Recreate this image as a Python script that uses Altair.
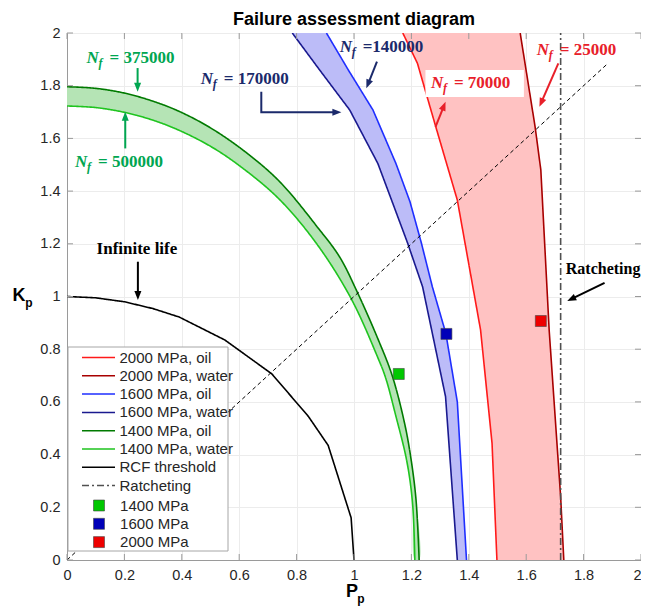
import math
import altair as alt
import pandas as pd

W, H = 574, 527
PXU, PYU = W / 2.0, H / 2.0   # pixels per data unit

# ---------------- data ----------------
g_oil_x = [0.0, 0.10, 0.20, 0.30, 0.39, 0.50, 0.62, 0.74, 0.875, 0.95, 1.01, 1.083, 1.133, 1.176, 1.198, 1.216, 1.227]
g_oil_y = [1.796, 1.790, 1.772, 1.741, 1.703, 1.640, 1.550, 1.437, 1.260, 1.150, 1.020, 0.840, 0.700, 0.520, 0.388, 0.230, 0.0]
g_wat_x = [0.0, 0.10, 0.20, 0.30, 0.39, 0.50, 0.60, 0.737, 0.87, 0.99, 1.083, 1.11, 1.145, 1.184, 1.204, 1.212]
g_wat_y = [1.723, 1.717, 1.699, 1.669, 1.631, 1.570, 1.497, 1.372, 1.200, 0.992, 0.768, 0.692, 0.550, 0.375, 0.215, 0.0]
b_oil_x = [0.904, 0.98, 1.066, 1.146, 1.195, 1.235, 1.273, 1.32, 1.36, 1.392]
b_oil_y = [2.0, 1.86, 1.708, 1.505, 1.36, 1.202, 1.037, 0.86, 0.60, 0.0]
b_wat_x = [0.785, 0.88, 0.985, 1.083, 1.135, 1.187, 1.239, 1.273, 1.319, 1.36]
b_wat_y = [2.0, 1.86, 1.708, 1.505, 1.354, 1.202, 1.037, 0.86, 0.62, 0.0]
r_oil_x = [1.17, 1.221, 1.285, 1.36, 1.441, 1.481, 1.498]
r_oil_y = [2.0, 1.885, 1.644, 1.366, 0.873, 0.443, 0.0]
r_wat_x = [1.579, 1.631, 1.651, 1.68, 1.72, 1.731]
r_wat_y = [2.0, 1.644, 1.48, 0.873, 0.24, 0.0]
rcf_x = [0.0, 0.1, 0.2, 0.3, 0.391, 0.55, 0.714, 0.841, 0.91, 0.99, 1.0]
rcf_y = [1.0, 0.995, 0.98, 0.954, 0.922, 0.835, 0.706, 0.545, 0.435, 0.16, 0.0]
ratch_x = [1.72, 1.72]
ratch_y = [0.0, 2.0]
diag_x = [0.0, 1.886]
diag_y = [0.0, 1.886]

pt_grade = ["1400 MPa", "1600 MPa", "2000 MPa"]
pt_x = [1.156, 1.322, 1.651]
pt_y = [0.706, 0.858, 0.907]
pt_col = ["#00c800", "#0000b8", "#ee0000"]

series = ["2000 MPa, oil", "2000 MPa, water", "1600 MPa, oil", "1600 MPa, water",
          "1400 MPa, oil", "1400 MPa, water", "RCF threshold", "Ratcheting"]
s_col = ["#ff1a1a", "#a80000", "#1f2fff", "#1a1a8f", "#007a00", "#1fc41f", "#000000", "#505050"]
s_dash = [[1, 0]] * 7 + [[7, 3, 2, 3]]

ticks = [0, 0.2, 0.4, 0.6, 0.8, 1, 1.2, 1.4, 1.6, 1.8, 2]

GREEN, NAVY, RED = "#00a651", "#1b2a6b", "#e8202a"
ann_text = ["= 375000", "= 500000", "= 170000", "=140000", "= 70000", "= 25000"]
ann_x = [0.068, 0.028, 0.466, 0.950, 1.268, 1.637]
ann_y = [1.907, 1.512, 1.825, 1.945, 1.809, 1.937]
ann_col = [GREEN, GREEN, NAVY, NAVY, RED, RED]

lab1_text, lab1_x, lab1_y = ["Infinite life"], [0.103], [1.180]
lab2_text, lab2_x, lab2_y = ["Ratcheting"], [1.738], [1.104]

box70 = dict(x=[1.249], x2=[1.592], y=[1.757], y2=[1.860])

arrows = [
    ([0.246, 0.246], [1.867, 1.777], GREEN),
    ([0.203, 0.203], [1.562, 1.701], GREEN),
    ([0.677, 0.677, 0.956], [1.777, 1.699, 1.699], NAVY),
    ([1.080, 1.043], [1.891, 1.790], NAVY),
    ([1.284, 1.319], [1.644, 1.739], RED),
    ([1.712, 1.646], [1.885, 1.720], RED),
    ([0.247, 0.247], [1.132, 0.987], "#000000"),
    ([1.873, 1.743], [1.052, 0.983], "#000000"),
]

# ---------------- build tables ----------------
FONT = "Liberation Sans"
SERIF = "Liberation Serif"

xaxis = alt.Axis(values=ticks, format="~g", title=None, grid=True, gridColor="#ececec",
                 domainColor="#9a9a9a", tickSize=0, labelFont=FONT, labelFontSize=14.5,
                 labelColor="#262626", labelPadding=8, labelOverlap=False, labelFlush=False,
                 labelAlign=alt.ExprRef(expr="datum.value >= 2 ? 'right' : 'center'"))
yaxis = alt.Axis(values=ticks, format="~g", title=None, grid=True, gridColor="#ececec",
                 domainColor="#9a9a9a", tickSize=0, labelFont=FONT, labelFontSize=14.5,
                 labelColor="#262626", labelPadding=7, labelOverlap=False, labelFlush=False)
sx = alt.Scale(domain=[0, 2], nice=False, zero=False)
sy = alt.Scale(domain=[0, 2], nice=False, zero=False)


def X(f="x"):
    return alt.X(f"{f}:Q", scale=sx, axis=xaxis)


def Y(f="y"):
    return alt.Y(f"{f}:Q", scale=sy, axis=yaxis)


def poly(xa, ya, xb, yb):
    xs = list(xa) + list(reversed(xb))
    ys = list(ya) + list(reversed(yb))
    return pd.DataFrame({"x": xs, "y": ys, "idx": range(len(xs))})


band_specs = [
    (poly(g_oil_x, g_oil_y, g_wat_x, g_wat_y), "#b5e4b5", "catmull-rom"),
    (poly(b_oil_x, b_oil_y, b_wat_x, b_wat_y), "#bcbcf8", "linear"),
    (poly(r_oil_x, r_oil_y, r_wat_x, r_wat_y), "#ffc2c2", "linear"),
]
bands = [alt.Chart(d).mark_line(filled=True, color=c, strokeWidth=0, clip=True,
                                interpolate=ip).encode(
    x=X(), y=Y(), order="idx:Q") for d, c, ip in band_specs]

curve_xy = {
    "2000 MPa, oil": (r_oil_x, r_oil_y), "2000 MPa, water": (r_wat_x, r_wat_y),
    "1600 MPa, oil": (b_oil_x, b_oil_y), "1600 MPa, water": (b_wat_x, b_wat_y),
    "1400 MPa, oil": (g_oil_x, g_oil_y), "1400 MPa, water": (g_wat_x, g_wat_y),
    "RCF threshold": (rcf_x, rcf_y), "Ratcheting": (ratch_x, ratch_y),
}
rows = []
for s in series:
    xs, ys = curve_xy[s]
    for i, (a, b) in enumerate(zip(xs, ys)):
        rows.append({"series": s, "x": a, "y": b, "idx": i})
lines_df = pd.DataFrame(rows)

leg1 = alt.Legend(title=None, orient="none", legendX=24, legendY=317, symbolType="M-3,0H3",
                  symbolSize=121, symbolStrokeWidth=1.5, labelFont=FONT, labelFontSize=15,
                  labelColor="#262626", labelOffset=13.5, rowPadding=2.3, padding=0,
                  labelLimit=300)
leg2 = alt.Legend(title=None, orient="none", legendX=24.5, legendY=465, symbolType="square",
                  symbolSize=121, symbolStrokeColor="#444444", symbolStrokeWidth=0.6,
                  labelFont=FONT, labelFontSize=15, labelColor="#262626", labelOffset=13.6,
                  rowPadding=2.3, padding=0, labelLimit=300)


def line_layer(df, interp):
    enc = dict(
        x=X(), y=Y(), detail="series:N", order="idx:Q",
        stroke=alt.Stroke("series:N", scale=alt.Scale(domain=series, range=s_col), legend=leg1),
        strokeDash=alt.StrokeDash("series:N", scale=alt.Scale(domain=series, range=s_dash), legend=leg1),
    )
    return alt.Chart(df).mark_line(strokeWidth=1.6, clip=True, interpolate=interp).encode(**enc)


green_names = ["1400 MPa, oil", "1400 MPa, water"]
lines = [line_layer(lines_df[lines_df["series"].isin(green_names)], "catmull-rom"),
         line_layer(lines_df[~lines_df["series"].isin(green_names)], "linear")]

diag = alt.Chart(pd.DataFrame({"x": diag_x, "y": diag_y})).mark_line(
    color="black", strokeWidth=1, strokeDash=[4, 3]).encode(x=X(), y=Y())

pts = alt.Chart(pd.DataFrame({"x": pt_x, "y": pt_y, "grade": pt_grade})).mark_square(
    size=121, opacity=1, stroke="#444444", strokeWidth=0.6).encode(
    x=X(), y=Y(), fill=alt.Fill("grade:N", scale=alt.Scale(domain=pt_grade, range=pt_col), legend=leg2))

tdf = pd.DataFrame({"t": ticks})
tick_style = dict(color="#9a9a9a", strokeWidth=1)
tk = [
    alt.Chart(tdf).mark_rule(**tick_style).encode(x=alt.X("t:Q", scale=sx, axis=xaxis), y=alt.value(H), y2=alt.value(H - 6)),
    alt.Chart(tdf).mark_rule(**tick_style).encode(x=alt.X("t:Q", scale=sx, axis=xaxis), y=alt.value(0), y2=alt.value(6)),
    alt.Chart(tdf).mark_rule(**tick_style).encode(y=alt.Y("t:Q", scale=sy, axis=yaxis), x=alt.value(0), x2=alt.value(6)),
    alt.Chart(tdf).mark_rule(**tick_style).encode(y=alt.Y("t:Q", scale=sy, axis=yaxis), x=alt.value(W), x2=alt.value(W - 6)),
]

one = pd.DataFrame({"a": [0]})
legbox = alt.Chart(one).mark_rect(fill="white", stroke="#a6a6a6", strokeWidth=1).encode(
    x=alt.value(1), x2=alt.value(161), y=alt.value(314), y2=alt.value(518))

box = alt.Chart(pd.DataFrame(box70)).mark_rect(fill="white").encode(
    x=X("x"), x2="x2:Q", y=Y("y"), y2="y2:Q")

adf = pd.DataFrame({"x": ann_x, "y": ann_y, "t": ann_text, "c": ann_col})
ann_n = alt.Chart(adf).mark_text(text="N", font=SERIF, fontSize=17, fontWeight="bold",
                                 fontStyle="italic", align="left", baseline="middle").encode(
    x=X(), y=Y(), color=alt.Color("c:N", scale=None))
ann_f = alt.Chart(adf).mark_text(text="f", font=SERIF, fontSize=12, fontWeight="bold",
                                 fontStyle="italic", align="left", baseline="middle", dx=12, dy=5).encode(
    x=X(), y=Y(), color=alt.Color("c:N", scale=None))
ann_e = alt.Chart(adf).mark_text(font=SERIF, fontSize=17, fontWeight="bold",
                                 align="left", baseline="middle", dx=23).encode(
    x=X(), y=Y(), text="t:N", color=alt.Color("c:N", scale=None))

lab1 = alt.Chart(pd.DataFrame({"x": lab1_x, "y": lab1_y, "t": lab1_text})).mark_text(
    font=SERIF, fontSize=17, fontWeight="bold", align="left", baseline="middle", color="black").encode(
    x=X(), y=Y(), text="t:N")
lab2 = alt.Chart(pd.DataFrame({"x": lab2_x, "y": lab2_y, "t": lab2_text})).mark_text(
    font=SERIF, fontSize=16, fontWeight="bold", align="left", baseline="middle", color="black").encode(
    x=X(), y=Y(), text="t:N")

# arrows: shafts and heads
shaft_rows, head_rows = [], []
HEAD_LEN = 9.0
for k, (xs, ys, c) in enumerate(arrows):
    x0, y0, x1, y1 = xs[-2], ys[-2], xs[-1], ys[-1]
    dxp = (x1 - x0) * PXU
    dyp = -(y1 - y0) * PYU
    L = math.hypot(dxp, dyp)
    ang = math.degrees(math.atan2(dxp, -dyp)) % 360
    head_rows.append({"x": x1, "y": y1, "ang": ang, "c": c})
    sx_end = x1 - (dxp / L) * (HEAD_LEN * 0.6) / PXU
    sy_end = y1 + (dyp / L) * (HEAD_LEN * 0.6) / PYU
    pxs = list(xs[:-1]) + [sx_end]
    pys = list(ys[:-1]) + [sy_end]
    for i, (a, b) in enumerate(zip(pxs, pys)):
        shaft_rows.append({"x": a, "y": b, "idx": i, "k": k, "c": c})
shafts = alt.Chart(pd.DataFrame(shaft_rows)).mark_line(strokeWidth=2).encode(
    x=X(), y=Y(), detail="k:N", order="idx:Q", color=alt.Color("c:N", scale=None))
heads = alt.Chart(pd.DataFrame(head_rows)).mark_point(
    shape="M0,0L0.7,1.8L-0.7,1.8Z", filled=True, size=100, opacity=1).encode(
    x=X(), y=Y(), angle=alt.Angle("ang:Q", scale=None), color=alt.Color("c:N", scale=None))


# axis titles as text
def txt(t, x, y, size, weight="bold"):
    return alt.Chart(one).mark_text(text=t, font=FONT, fontSize=size, fontWeight=weight,
                                    align="center", baseline="middle", color="black").encode(
        x=alt.value(x), y=alt.value(y))


titles = [txt("P", 285, 559, 18), txt("p", 294, 565.5, 12),
          txt("K", -48, 263, 18), txt("p", -38, 270, 12)]

chart = alt.layer(
    *bands, *lines, diag, pts, *tk, legbox, box, shafts, heads, ann_n, ann_f, ann_e, lab1, lab2, *titles
).properties(
    width=W, height=H,
    title=alt.TitleParams("Failure assessment diagram", font=FONT, fontSize=18,
                          fontWeight="bold", color="black", offset=-4, anchor="middle"),
    padding={"left": 59, "top": 25, "right": 0, "bottom": 46},
    autosize=alt.AutoSizeParams(type="none"),
).resolve_scale(color="independent").configure_view(stroke="#9a9a9a", strokeWidth=1)

chart.save("out.html", embed_options={"renderer": "svg", "actions": False})
